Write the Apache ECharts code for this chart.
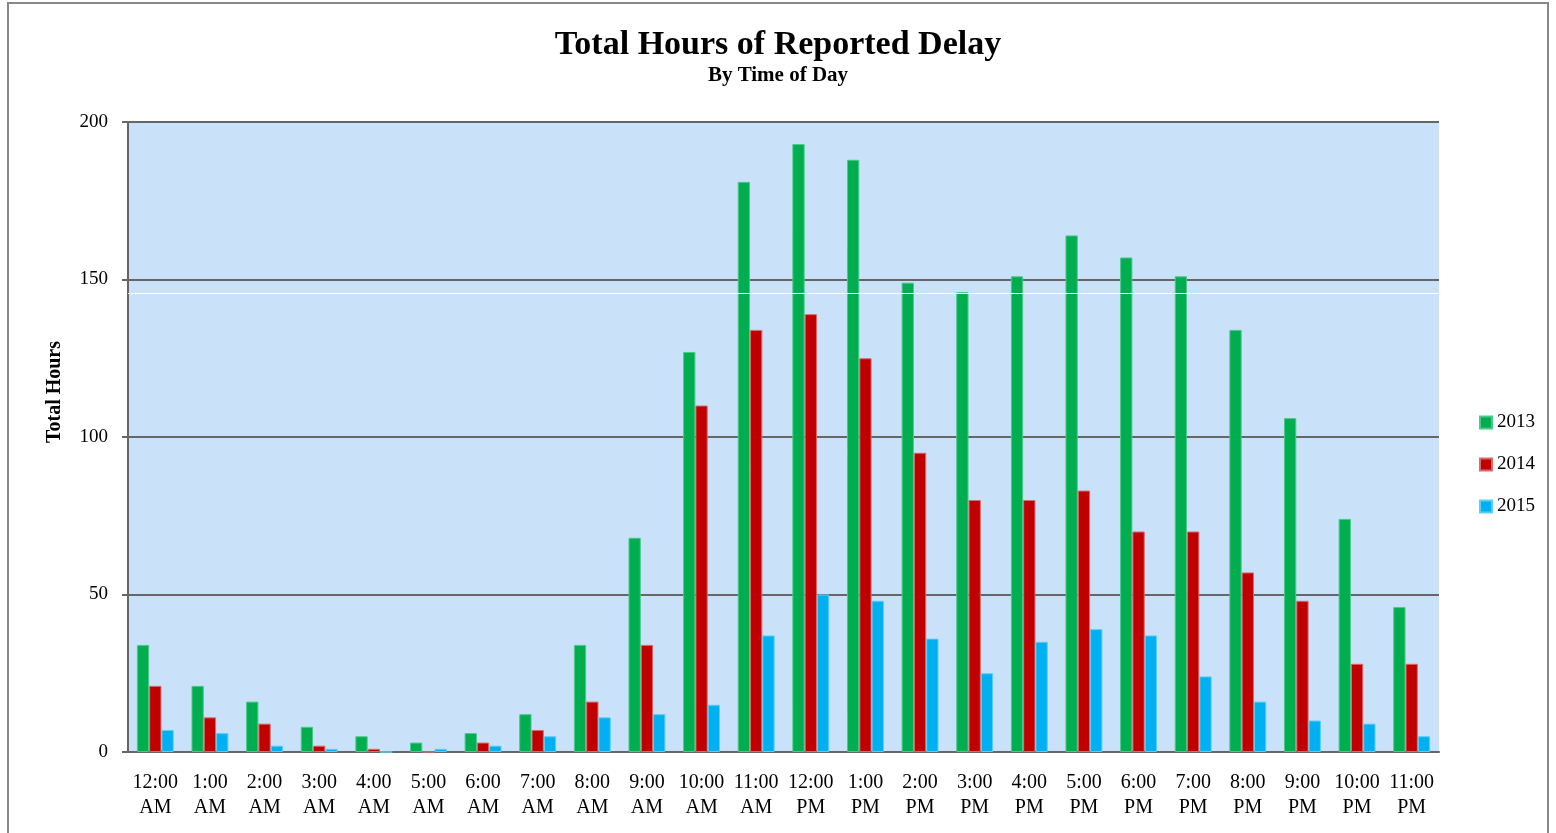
<!DOCTYPE html>
<html>
<head>
<meta charset="utf-8">
<script src="https://cdn.jsdelivr.net/npm/echarts@6/dist/echarts.min.js"></script>
<style>
  html, body { margin: 0; padding: 0; background: #fff; }
  #chart { width: 1556px; height: 833px; }
</style>
</head>
<body>
<div id="chart"></div>
<script>
const hours = [
  "12:00\nAM", "1:00\nAM", "2:00\nAM", "3:00\nAM", "4:00\nAM", "5:00\nAM",
  "6:00\nAM", "7:00\nAM", "8:00\nAM", "9:00\nAM", "10:00\nAM", "11:00\nAM",
  "12:00\nPM", "1:00\nPM", "2:00\nPM", "3:00\nPM", "4:00\nPM", "5:00\nPM",
  "6:00\nPM", "7:00\nPM", "8:00\nPM", "9:00\nPM", "10:00\nPM", "11:00\nPM"
];
const delay2013 = [34, 21, 16, 8, 5, 3, 6, 12, 34, 68, 127, 181, 193, 188, 149, 146, 151, 164, 157, 151, 134, 106, 74, 46];
const delay2014 = [21, 11, 9, 2, 1, 0, 3, 7, 16, 34, 110, 134, 139, 125, 95, 80, 80, 83, 70, 70, 57, 48, 28, 28];
const delay2015 = [7, 6, 2, 1, 0, 1, 2, 5, 11, 12, 15, 37, 50, 48, 36, 25, 35, 39, 37, 24, 16, 10, 9, 5];
// faint white line that crosses the plot (behind the bars) in the original
const whiteLineAt = 145.7;

const serif = "'Liberation Serif', 'DejaVu Serif', serif";

const chart = echarts.init(document.getElementById("chart"));

function barSeries(name, data, color, border) {
  return {
    name: name,
    type: "bar",
    data: data,
    z: 3,
    barWidth: 12.3,
    barGap: "0%",
    itemStyle: { color: color, borderColor: border, borderWidth: 1 },
    animation: false
  };
}

chart.setOption({
  backgroundColor: "#fff",
  textStyle: { fontFamily: serif },
  title: {
    text: "Total Hours of Reported Delay",
    subtext: "By Time of Day",
    left: "center",
    top: 23,
    itemGap: 3,
    textStyle: { fontFamily: serif, fontSize: 34, fontWeight: "bold", color: "#000" },
    subtextStyle: { fontFamily: serif, fontSize: 21, fontWeight: "bold", color: "#000" }
  },
  legend: {
    orient: "vertical",
    left: 1474,
    top: 408,
    itemWidth: 12,
    itemHeight: 12,
    itemGap: 23,
    icon: "rect",
    textStyle: { fontFamily: serif, fontSize: 19, color: "#000", padding: [0, 0, 0, 0] },
    data: ["2013", "2014", "2015"]
  },
  graphic: [{
    type: "rect",
    shape: { x: 8, y: 3, width: 1540, height: 850 },
    style: { fill: "none", stroke: "#888", lineWidth: 2 },
    silent: true
  }, {
    type: "text",
    x: 55,
    y: 392,
    rotation: Math.PI / 2,
    style: {
      text: "Total Hours",
      fill: "#000",
      font: "bold 20px " + serif,
      align: "center",
      verticalAlign: "middle"
    },
    silent: true
  }],
  grid: {
    left: 128,
    right: 117,
    top: 122,
    bottom: 81,
    show: true,
    backgroundColor: "#C9E2F9",
    borderWidth: 0
  },
  xAxis: {
    type: "category",
    data: hours,
    axisLine: { lineStyle: { color: "#666", width: 2 } },
    axisTick: { show: false },
    axisLabel: {
      interval: 0,
      margin: 18,
      fontFamily: serif,
      fontSize: 20,
      lineHeight: 25,
      color: "#000"
    }
  },
  yAxis: {
    type: "value",
    min: 0,
    max: 200,
    interval: 50,
    axisLine: { show: true, lineStyle: { color: "#666", width: 2 } },
    axisTick: { show: true, length: 6, lineStyle: { color: "#666", width: 2 } },
    axisLabel: { fontFamily: serif, fontSize: 19, color: "#000", margin: 20 },
    splitLine: { lineStyle: { color: "#666", width: 2 } }
  },
  series: [
    barSeries("2013", delay2013, "#00AD4F", "#4CC98A"),
    barSeries("2014", delay2014, "#C00000", "#D86A6A"),
    barSeries("2015", delay2015, "#00B0F0", "#5CCDF5"),
    {
      name: "whiteLine",
      type: "line",
      data: [],
      z: 1,
      silent: true,
      animation: false,
      markLine: {
        silent: true,
        symbol: "none",
        label: { show: false },
        lineStyle: { color: "#fff", width: 1, type: "solid" },
        data: [{ yAxis: whiteLineAt }],
        animation: false
      }
    }
  ]
});
</script>
</body>
</html>
